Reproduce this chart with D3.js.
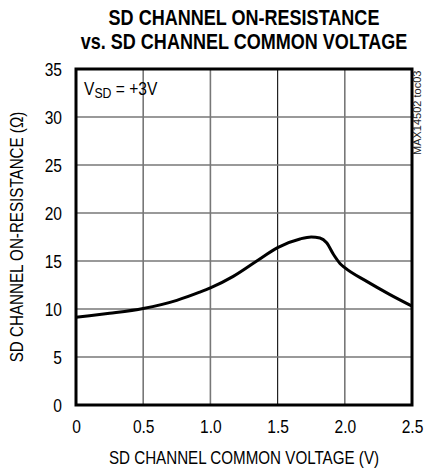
<!DOCTYPE html>
<html>
<head>
<meta charset="utf-8">
<script src="https://cdn.jsdelivr.net/npm/d3@7"></script>
<style>
  body { margin: 0; background: #fff; }
  svg text { font-family: "Liberation Sans", Arial, sans-serif; fill: #000; }
</style>
</head>
<body>
<svg id="viz"></svg>
<script>
// curve: common voltage (V) -> on-resistance (ohm)
const voltage = [0, 0.1, 0.25, 0.5, 0.75, 0.92, 1.0, 1.17, 1.345, 1.5, 1.667, 1.75, 1.815, 1.865, 1.915, 1.964, 2.0, 2.16, 2.336, 2.5];
const resistance = [9.15, 9.3, 9.55, 10.05, 10.9, 11.75, 12.2, 13.4, 15.0, 16.4, 17.3, 17.5, 17.4, 16.9, 15.7, 14.75, 14.3, 12.9, 11.5, 10.3];

const xTicks = [0, 0.5, 1.0, 1.5, 2.0, 2.5];
const xTickLabels = ["0", "0.5", "1.0", "1.5", "2.0", "2.5"];
const yTicks = [0, 5, 10, 15, 20, 25, 30, 35];

const titleLines = ["SD CHANNEL ON-RESISTANCE", "vs. SD CHANNEL COMMON VOLTAGE"];

const W = 424, H = 471;
const plot = { left: 76, right: 412, top: 69, bottom: 405 };
const NARROW = 0.82; // no Arial Narrow installed, squeeze Liberation Sans instead

const svg = d3.select("#viz").attr("width", W).attr("height", H);

const x = d3.scaleLinear().domain([0, 2.5]).range([plot.left, plot.right]);
const y = d3.scaleLinear().domain([0, 35]).range([plot.bottom, plot.top]);

// put a narrow-looking text at (px, py), optional rotation
function narrowText(parent, px, py, anchor, size, rot, sx = NARROW) {
  return parent.append("text")
    .attr("transform", `translate(${px},${py})` + (rot ? ` rotate(${rot})` : "") + ` scale(${sx},1)`)
    .attr("text-anchor", anchor)
    .style("font-size", size + "px");
}

// title
titleLines.forEach((t, i) => {
  narrowText(svg, (plot.left + plot.right) / 2, 25 + i * 24, "middle", 22)
    .style("font-weight", "bold")
    .text(t);
});

// grid
svg.append("g").selectAll("line")
  .data(xTicks.slice(1, -1))
  .join("line")
  .attr("x1", d => x(d)).attr("x2", d => x(d))
  .attr("y1", plot.top).attr("y2", plot.bottom)
  .attr("stroke", d => d === 1.5 ? "#222" : "#777")
  .attr("stroke-width", d => d === 1.5 ? 1.2 : 1.6);

svg.append("g").selectAll("line")
  .data(yTicks.slice(1, -1))
  .join("line")
  .attr("x1", plot.left).attr("x2", plot.right)
  .attr("y1", d => y(d)).attr("y2", d => y(d))
  .attr("stroke", "#777")
  .attr("stroke-width", 1.6);

// axes (labels only, ticks are the grid)
const xAxis = d3.axisBottom(x).tickValues(xTicks).tickFormat((d, i) => xTickLabels[i]).tickSize(0).tickPadding(15);
const gx = svg.append("g").attr("transform", `translate(0,${plot.bottom})`).call(xAxis);
gx.select(".domain").remove();
gx.selectAll("text").style("font-size", "19px").attr("transform", `scale(${NARROW},1)`);

const yAxis = d3.axisLeft(y).tickValues(yTicks).tickSize(0).tickPadding(14);
const gy = svg.append("g").attr("transform", `translate(${plot.left},0)`).call(yAxis);
gy.select(".domain").remove();
gy.selectAll("text")
  .style("font-size", "19px")
  .attr("dy", "0.36em")
  .attr("x", 0)
  .attr("transform", `translate(-14,0) scale(${NARROW},1)`);

// curve
const line = d3.line()
  .x((d, i) => x(voltage[i]))
  .y(d => y(d))
  .curve(d3.curveMonotoneX);

svg.append("path")
  .attr("d", line(resistance))
  .attr("fill", "none")
  .attr("stroke", "#000")
  .attr("stroke-width", 3)
  .attr("stroke-linejoin", "round");

// frame
svg.append("rect")
  .attr("x", plot.left).attr("y", plot.top)
  .attr("width", plot.right - plot.left).attr("height", plot.bottom - plot.top)
  .attr("fill", "none")
  .attr("stroke", "#000")
  .attr("stroke-width", 3);

// axis titles
narrowText(svg, (plot.left + plot.right) / 2, 464, "middle", 18.5)
  .text("SD CHANNEL COMMON VOLTAGE (V)");

narrowText(svg, 23, (plot.top + plot.bottom) / 2, "middle", 18.5, -90)
  .text("SD CHANNEL ON-RESISTANCE (\u03A9)");

// annotation
const ann = narrowText(svg, 84, 95, "start", 19);
ann.append("tspan").text("V");
ann.append("tspan").attr("dy", 3).style("font-size", "15px").text("SD");
ann.append("tspan").attr("dy", -3).text(" = +3V");

// figure code at right edge
narrowText(svg, 421, 155, "start", 11, -90, 1)
  .style("fill", "#222")
  .text("MAX14502 toc03");
</script>
</body>
</html>
